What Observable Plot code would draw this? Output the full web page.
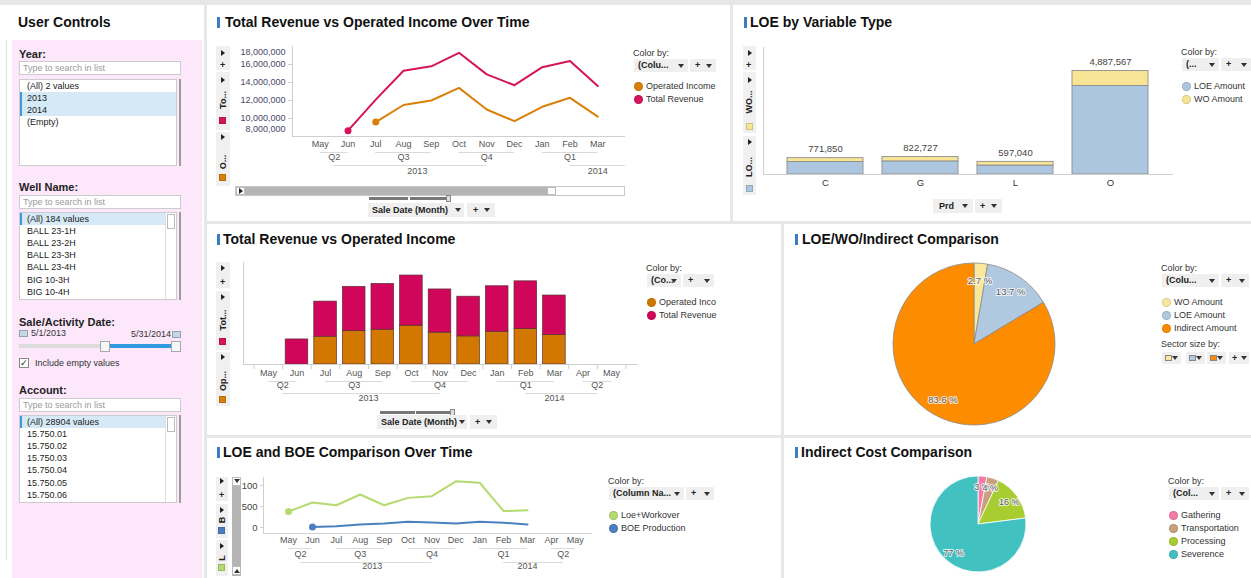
<!DOCTYPE html>
<html><head><meta charset="utf-8">
<script src="https://cdn.jsdelivr.net/npm/d3@7"></script>
<script src="https://cdn.jsdelivr.net/npm/@observablehq/plot@0.6"></script>
<style>
body{margin:0;background:#fff;}
#root{position:relative;width:1251px;height:578px;overflow:hidden;background:#e7e7e7;font-family:"Liberation Sans",Arial,sans-serif;color:#222;}
.abs{position:absolute;box-sizing:border-box;}
</style></head>
<body><div id="root"></div>
<script>
// ---------------- DATA ----------------
const months = ["May","Jun","Jul","Aug","Sep","Oct","Nov","Dec","Jan","Feb","Mar","Apr","May"];
const monthYear = [2013,2013,2013,2013,2013,2013,2013,2013,2014,2014,2014,2014,2014];
const monthQuarter = ["Q2","Q2","Q3","Q3","Q3","Q4","Q4","Q4","Q1","Q1","Q1","Q2","Q2"];
const totalRevenue = [null, 8.65e6, 12.1e6, 15.3e6, 15.8e6, 17.3e6, 14.9e6, 13.7e6, 15.7e6, 16.4e6, 13.6e6, null, null];
const operatedIncome = [null, null, 9.6e6, 11.5e6, 12.0e6, 13.4e6, 11.0e6, 9.7e6, 11.3e6, 12.3e6, 10.2e6, null, null];
const revSeries = ["Operated Income","Total Revenue"];
const revColors = ["#d9800b","#d6145c"];
const revTicks = [8e6, 10e6, 12e6, 14e6, 16e6, 18e6];

const loeWorkover = [380, 595, 530, 785, 530, 705, 745, 1100, 1065, 390, 410, null, null];
const boeProduction = [null, 10, 31, 71, 95, 135, 119, 95, 135, 112, 71, null, null];
const boeSeries = ["Loe+Workover","BOE Production"];
const boeColors = ["#b5da6f","#4a7fc0"];
const boeTicks = [0, 500, 1000];
const boeTickLabels = ["0","500","100"];

const prdCategories = ["C","G","L","O"];
const loeAmount = [592850, 618727, 424040, 4180567];
const woAmount = [179000, 204000, 173000, 707000];
const prdSeries = ["LOE Amount","WO Amount"];
const prdColors = ["#adc6df","#f7e595"];

const costLabels = ["WO Amount","LOE Amount","Indirect Amount"];
const costShares = [2.7, 13.7, 83.6];
const costColors = ["#f9e79b","#b0c8e0","#fd8c00"];

const indirectLabels = ["Gathering","Transportation","Processing","Severence"];
const indirectShares = [3, 4, 16, 77];
const indirectColors = ["#f47ba8","#c8a07c","#a7cd31","#42c1c1"];

// ---------------- HELPERS ----------------
const root = document.getElementById("root");
function box(x,y,w,h,style=""){const d=document.createElement("div");d.className="abs";d.style.cssText=`left:${x}px;top:${y}px;width:${w}px;height:${h}px;${style}`;root.appendChild(d);return d;}
function txt(x,cy,s,size=9,style=""){const lh=size+4;const d=document.createElement("div");d.className="abs";d.style.cssText=`left:${x}px;top:${cy-lh/2}px;height:${lh}px;line-height:${lh}px;font-size:${size}px;white-space:nowrap;${style}`;d.textContent=s;root.appendChild(d);return d;}
function txtR(xr,cy,s,size=9,style=""){const lh=size+4;const d=document.createElement("div");d.className="abs";d.style.cssText=`left:${xr-100}px;width:100px;text-align:right;top:${cy-lh/2}px;height:${lh}px;line-height:${lh}px;font-size:${size}px;white-space:nowrap;${style}`;d.textContent=s;root.appendChild(d);return d;}
function tri(x,cy){box(x,cy-3,0,0,"border-left:4px solid #222;border-top:3px solid transparent;border-bottom:3px solid transparent;");}
function down(x,cy){box(x,cy-2,0,0,"border-top:4px solid #333;border-left:3px solid transparent;border-right:3px solid transparent;");}
function up(x,cy){box(x,cy-2,0,0,"border-bottom:4px solid #333;border-left:3px solid transparent;border-right:3px solid transparent;");}
function sq(x,cy,c){box(x,cy-3.5,7,7,`background:${c};border:1px solid rgba(0,0,0,0.15)`);}
function rot(cx,cy,s){const d=document.createElement("div");d.className="abs";d.style.cssText=`left:${cx}px;top:${cy}px;transform:translate(-50%,-50%) rotate(-90deg);font-size:9px;font-weight:bold;white-space:nowrap;line-height:10px;color:#222`;d.textContent=s;root.appendChild(d);}
function title(bx,tx,cy,s){box(bx,cy-5.5,3,11,"background:#3b7dc4");txt(tx,cy,s,14,"font-weight:bold;color:#111");}
function legend(x,y,dd,ddW,plusW,labels,colors,iy){
  txt(x,y,"Color by:",9,"color:#333");
  box(x+1,y+6,ddW,13,"background:#efefef");txt(x+5,y+12.5,dd,9,"font-weight:bold;color:#222");down(x+ddW-9,y+12.5);
  box(x+ddW+3,y+6,plusW,13,"background:#efefef");txt(x+ddW+8,y+12.5,"+",9,"font-weight:bold");down(x+ddW+plusW-7,y+12.5);
  labels.forEach((l,k)=>{const cy=iy+k*13;box(x+1,cy-4.5,9,9,`border-radius:50%;background:${colors[k]};border:1px solid rgba(0,0,0,0.12)`);txt(x+13,cy,l,9,"color:#333");});
}
function place(x,y,node){const d=document.createElement("div");d.className="abs";d.style.cssText=`left:${x}px;top:${y}px;`;d.appendChild(node);root.appendChild(d);}

const baseStyle = {fontFamily:'"Liberation Sans", Arial, sans-serif', fontSize:"9px", background:"none", overflow:"visible", color:"#555"};
const axisCol = "#cfcfcf";
const labCol = "#555";
const fmtComma = d3.format(",");

// hierarchical month / quarter / year groups
const monthIdx = months.map((m,i)=>i);
const quarterGroups = d3.groups(monthIdx, i=>monthYear[i]+monthQuarter[i]).map(([k,arr])=>({label:monthQuarter[arr[0]], year:monthYear[arr[0]], first:arr[0], last:arr[arr.length-1], mid:d3.mean(arr)}));
const yearGroups = d3.groups(monthIdx, i=>monthYear[i]).map(([y,arr])=>{const qs=quarterGroups.filter(q=>q.year===y);return {label:String(y), mid:d3.mean(arr), first:qs[0].mid, last:qs[qs.length-1].mid};});

function timeAxis(dom, yBase, dyM, dyQ, dyY){
  const inD = v => v>=dom[0] && v<dom[1];
  const cl = v => Math.max(dom[0], Math.min(dom[1], v));
  return [
    Plot.text(monthIdx.filter(inD), {x:d=>d, text:i=>months[i], frameAnchor:"bottom", dy:dyM, fill:labCol}),
    Plot.ruleY(quarterGroups.filter(g=>g.last>=dom[0]&&g.first<=dom[1]), {x1:g=>cl(g.first), x2:g=>cl(g.last), y:()=>yBase, dy:dyM+6, stroke:"#dadada"}),
    Plot.text(quarterGroups.filter(g=>inD(g.mid)), {x:"mid", text:"label", frameAnchor:"bottom", dy:dyQ, fill:labCol}),
    Plot.ruleY(yearGroups.filter(g=>g.last>=dom[0]&&g.first<=dom[1]), {x1:g=>cl(g.first), x2:g=>cl(g.last), y:()=>yBase, dy:dyQ+6, stroke:"#dadada"}),
    Plot.text(yearGroups.filter(g=>inD(g.mid)), {x:"mid", text:"label", frameAnchor:"bottom", dy:dyY, fill:labCol})
  ];
}

// ---------------- PANELS ----------------
box(0,5,204,573,"background:#fff");
box(207,5,523,216,"background:#fff");
box(733,5,518,216,"background:#fff");
box(207,224,574,211,"background:#fff");
box(784,224,467,211,"background:#fff");
box(207,438,574,140,"background:#fff");
box(784,438,467,140,"background:#fff");

// ---------------- USER CONTROLS ----------------
txt(18,22,"User Controls",14,"font-weight:bold;color:#111");
box(12,40,190,538,"background:#fde7fb");
box(6,40,1,520,"background:#e2e2e2");
function searchBox(y){box(19,y,162,14,"background:#fff;border:1px solid #ccc");txt(23,y+7,"Type to search in list",9,"color:#9a9a9a");}
function listBox(y,h,items,selected,thumb,step){
  box(19,y,158,h,"background:#fff;border:1px solid #ccc");
  box(179,y,2,h,"background:#9c9c9c");
  items.forEach((s,k)=>{const cy=y+7+k*step; if(selected.includes(k)){box(20,cy-6,thumb?145:156,12,"background:#d5e9f7");box(20,cy-6,2,12,"background:#3d9ad8");} txt(27,cy,s,9,"color:#222");});
  if(thumb){box(165,y+1,11,h-2,"background:#fff;border-left:1px solid #e0e0e0");box(167,y+2,8,15,"background:#fff;border:1px solid #bbb");}
}
txt(19,54,"Year:",11,"font-weight:bold;color:#222");
searchBox(61);
listBox(79,87,["(All) 2 values","2013","2014","(Empty)"],[1,2],false,12);
txt(19,187,"Well Name:",11,"font-weight:bold;color:#222");
searchBox(195);
listBox(212,88,["(All) 184 values","BALL 23-1H","BALL 23-2H","BALL 23-3H","BALL 23-4H","BIG 10-3H","BIG 10-4H"],[0],true,12.2);
txt(19,322,"Sale/Activity Date:",11,"font-weight:bold;color:#222");
box(19,330,9,7,"background:#c9d6e4;border:1px solid #8fa3b8");
txt(31,333,"5/1/2013",9,"color:#333");
txtR(171,334,"5/31/2014",9,"color:#333");
box(172,331,9,7,"background:#c9d6e4;border:1px solid #8fa3b8");
box(19,344,85,4,"background:#dcdcdc");
box(110,344,66,4,"background:#2f9ae0");
box(100,341,10,11,"background:#f6f6f6;border:1px solid #a8a8a8");
box(171,341,10,11,"background:#f6f6f6;border:1px solid #a8a8a8");
box(19,358,10,10,"background:#fff;border:1px solid #888");
txt(20,363,"✓",9,"color:#222;font-family:'DejaVu Sans'");
txt(35,363,"Include empty values",9,"color:#333");
txt(19,390,"Account:",11,"font-weight:bold;color:#222");
searchBox(398);
listBox(415,88,["(All) 28904 values","15.750.01","15.750.02","15.750.03","15.750.04","15.750.05","15.750.06"],[0],true,12.2);

// ---------------- CHART A : line over time ----------------
title(217,225,22,"Total Revenue vs Operated Income Over Time");
box(216,46,14,24,"background:#f0f0f0");box(216,72,14,58,"background:#f0f0f0");box(216,132,14,54,"background:#f0f0f0");
tri(221,53);txt(220,65,"+",9,"font-weight:bold");tri(221,80);rot(223,100,"To...");sq(219,120,revColors[1]);tri(221,137);rot(223,162,"O...");sq(219,177,revColors[0]);
const revRows=[];
monthIdx.forEach(i=>{if(operatedIncome[i]!=null)revRows.push({i,series:revSeries[0],value:operatedIncome[i]});if(totalRevenue[i]!=null)revRows.push({i,series:revSeries[1],value:totalRevenue[i]});});
const revFirst = revSeries.map(s=>revRows.find(d=>d.series===s));
const domA=[-1,11];
const yLab="#48486c";
place(230,36,Plot.plot({
  width:410,height:150,marginLeft:62,marginRight:15,marginTop:10,marginBottom:50,
  style:baseStyle,
  x:{domain:domA,axis:null},
  y:{domain:[revTicks[0],revTicks[revTicks.length-1]],axis:null},
  color:{domain:revSeries,range:revColors},
  marks:[
    Plot.ruleX([domA[0]],{stroke:axisCol}),
    Plot.ruleY([revTicks[0]],{stroke:axisCol}),
    Plot.ruleY(revTicks.slice(1,-1),{y:d=>d,x1:()=>domA[0],x2:()=>domA[0],insetLeft:-4,stroke:axisCol}),
    Plot.text(revTicks.slice(1,-1),{y:d=>d,frameAnchor:"left",textAnchor:"end",dx:-7,text:d=>fmtComma(d),fill:yLab}),
    Plot.text(revTicks.slice(-1),{y:d=>d,frameAnchor:"left",textAnchor:"end",dx:-7,dy:6,text:d=>fmtComma(d),fill:yLab}),
    Plot.text(revTicks.slice(0,1),{y:d=>d,frameAnchor:"left",textAnchor:"end",dx:-7,dy:-7,text:d=>fmtComma(d),fill:yLab}),
    Plot.line(revRows,{x:"i",y:"value",stroke:"series",strokeWidth:2}),
    Plot.dot(revFirst,{x:"i",y:"value",fill:"series",r:3.5}),
    ...timeAxis(domA,revTicks[0],10,23,37)
  ]
}));
// scrollbar + controls
box(235,186,390,10,"background:#fff;border:1px solid #c8c8c8");
box(236,187,320,8,"background:#b5b5b5");
box(236,187,9,8,"background:#fff;border:1px solid #bbb");tri(239,191);
box(547,187,9,8,"background:#fff;border:1px solid #bbb");
box(369,197,39,3,"background:#777");box(410,197,37,3,"background:#777");box(446,195,5,7,"background:#ddd;border:1px solid #888");
box(368,203,96,14,"background:#efefef");txt(372,210,"Sale Date (Month)",9,"font-weight:bold");down(455,210);
box(467,203,28,14,"background:#efefef");txt(473,210,"+",9,"font-weight:bold");down(484,210);
legend(633,53,"(Colu...",54,26,revSeries,revColors,86);

// ---------------- CHART B : LOE by variable type ----------------
title(744,750,22,"LOE by Variable Type");
box(743,46,13,24,"background:#f0f0f0");box(743,72,13,61,"background:#f0f0f0");box(743,136,13,59,"background:#f0f0f0");
tri(748,53);txt(746,65,"+",9,"font-weight:bold");tri(748,80);rot(749,102,"WO...");sq(746,126,prdColors[1]);tri(748,142);rot(749,167,"LO...");sq(746,188,prdColors[0]);
const prdRows = prdCategories.flatMap((c,k)=>[{prd:c,series:prdSeries[0],value:loeAmount[k]},{prd:c,series:prdSeries[1],value:woAmount[k]}]);
const prdTotals = prdCategories.map((c,k)=>({prd:c,total:loeAmount[k]+woAmount[k]}));
place(755,30,Plot.plot({
  width:430,height:170,marginLeft:8,marginRight:12,marginTop:17,marginBottom:26,
  style:baseStyle,
  x:{domain:prdCategories,paddingInner:0.2,paddingOuter:0.1,insetLeft:13,insetRight:14,axis:null},
  y:{domain:[0,6e6],axis:null},
  color:{domain:prdSeries,range:prdColors},
  marks:[
    Plot.barY(prdRows,{x:"prd",y:"value",fill:"series",stroke:"#8e8e8e",strokeWidth:0.9}),
    Plot.text(prdTotals,{x:"prd",y:"total",text:d=>fmtComma(d.total),dy:-9,fill:"#444",fontSize:9.5}),
    Plot.text(prdCategories,{x:d=>d,frameAnchor:"bottom",dy:11,fill:"#333",fontSize:9.5}),
    Plot.ruleY([0],{stroke:axisCol}),
    Plot.frame({anchor:"left",stroke:axisCol})
  ]
}));
box(933,199,40,14,"background:#efefef");txt(939,206,"Prd",9,"font-weight:bold");down(962,206);
box(975,199,27,14,"background:#efefef");txt(980,206,"+",9,"font-weight:bold");down(991,206);
legend(1181,52,"(...",37,30,prdSeries,prdColors,86);

// ---------------- CHART C : stacked bars ----------------
title(217,223,239,"Total Revenue vs Operated Income");
box(216,262,14,26,"background:#f0f0f0");box(216,291,14,59,"background:#f0f0f0");box(216,352,14,54,"background:#f0f0f0");
tri(221,268);txt(220,282,"+",9,"font-weight:bold");tri(221,297);rot(223,320,"Tot...");sq(219,341,revColors[1]);tri(221,357);rot(223,381,"Op...");sq(219,399,revColors[0]);
const domC=[-0.87,12.94];
place(200,250,Plot.plot({
  width:450,height:160,marginLeft:43,marginRight:12,marginTop:12,marginBottom:46,
  style:baseStyle,
  x:{domain:domC,axis:null},
  y:{domain:[0,35.2e6],axis:null},
  color:{domain:revSeries,range:["#d27800","#d1065a"]},
  marks:[
    Plot.rectY(revRows,{x1:d=>d.i-0.5,x2:d=>d.i+0.5,y:"value",fill:"series",insetLeft:3,insetRight:3,stroke:"#5a2f35",strokeWidth:0.7}),
    Plot.ruleX([domC[0]],{stroke:axisCol}),
    Plot.ruleY([0],{stroke:axisCol}),
    Plot.ruleX(d3.range(months.length+1).map(i=>i-0.5),{x:d=>d,y1:0,y2:0,insetBottom:-5,stroke:axisCol}),
    ...timeAxis(domC,0,11,23,36)
  ]
}));
box(380,411,35,3,"background:#777");box(416,411,35,3,"background:#777");box(450,409,5,7,"background:#ddd;border:1px solid #888");
box(377,415,90,14,"background:#efefef");txt(381,422,"Sale Date (Month)",9,"font-weight:bold");down(459,422);
box(470,415,27,14,"background:#efefef");txt(475,422,"+",9,"font-weight:bold");down(486,422);
legend(646,268,"(Co...",34,31,["Operated Inco","Total Revenue"],["#d27800","#d1065a"],302);

// ---------------- PIE helper ----------------
function pie(x,y,size,m,labels,shares,colors,stroke,fmt,fs){
  const arcs = d3.pie().sort(null).value(d=>d)(shares);
  const rows = arcs.map((a,k)=>{const mid=(a.startAngle+a.endAngle)/2;return {label:fmt(shares[k]),lx:0.79*Math.sin(mid),ly:0.79*Math.cos(mid)};});
  const pieMark = (index,scales)=>{
    const cx=scales.x(0), cy=scales.y(0), r=scales.x(1)-scales.x(0);
    const g=d3.create("svg:g").attr("transform",`translate(${cx},${cy})`);
    const arc=d3.arc().innerRadius(0).outerRadius(r);
    g.selectAll("path").data(arcs).join("path").attr("d",arc).attr("fill",(d,k)=>colors[k]).attr("stroke",stroke).attr("stroke-width",0.8);
    return g.node();
  };
  place(x,y,Plot.plot({
    width:size,height:size,margin:m,style:baseStyle,
    x:{domain:[-1,1],axis:null},y:{domain:[-1,1],axis:null},
    marks:[pieMark, Plot.text(rows,{x:"lx",y:"ly",text:"label",fill:"#5a5a5a",stroke:"#fff",strokeWidth:2,strokeOpacity:0.8,fontSize:fs})]
  }));
}

// ---------------- CHART D : pie ----------------
title(795,802,239,"LOE/WO/Indirect Comparison");
pie(884,254,180,9,costLabels,costShares,costColors,"#8a8a8a",v=>v.toFixed(1)+" %",9.5);
legend(1161,268,"(Colu...",57,28,costLabels,costColors,302);
txt(1161,344,"Sector size by:",9,"color:#333");
[[1162,costColors[0]],[1186,costColors[1]],[1207,costColors[2]]].forEach(([bx,c])=>{box(bx,352,19,12,"background:#efefef");box(bx+3,355,7,6,`background:${c};border:1px solid #888`);down(bx+10,358);});
box(1229,352,20,12,"background:#efefef");txt(1232,358,"+",9,"font-weight:bold");down(1241,358);

// ---------------- CHART E : LOE / BOE lines ----------------
title(217,223,452,"LOE and BOE Comparison Over Time");
box(216,477,12,24,"background:#f0f0f0");box(216,504,12,34,"background:#f0f0f0");box(216,540,12,36,"background:#f0f0f0");
tri(220,481);txt(219,495,"+",9,"font-weight:bold");tri(220,510);rot(222,520,"B");sq(218,530,boeColors[1]);tri(220,546);rot(222,558,"L");sq(218,567,boeColors[0]);
box(232,477,9,99,"background:#b4b4b4");box(232,477,9,9,"background:#fff;border:1px solid #bbb");down(234,481);box(232,566,9,9,"background:#fff;border:1px solid #bbb");up(234,571);
const boeRows=[];
monthIdx.forEach(i=>{if(loeWorkover[i]!=null)boeRows.push({i,series:boeSeries[0],value:loeWorkover[i]});if(boeProduction[i]!=null)boeRows.push({i,series:boeSeries[1],value:boeProduction[i]});});
const boeFirst = boeSeries.map(s=>boeRows.find(d=>d.series===s));
const domE=[-1.05,12.72];
const yDomE=[-143,1190];
place(240,470,Plot.plot({
  width:360,height:108,marginLeft:23,marginRight:8,marginTop:7,marginBottom:45,
  style:baseStyle,
  x:{domain:domE,axis:null},
  y:{domain:yDomE,axis:null},
  color:{domain:boeSeries,range:boeColors},
  marks:[
    Plot.ruleX([domE[0]],{stroke:axisCol}),
    Plot.ruleY([yDomE[0]],{stroke:axisCol}),
    Plot.ruleY(boeTicks,{y:d=>d,x1:()=>domE[0],x2:()=>domE[0],insetLeft:-3,stroke:axisCol}),
    Plot.text(boeTicks,{y:d=>d,frameAnchor:"left",textAnchor:"end",dx:-6,text:d=>boeTickLabels[boeTicks.indexOf(d)],fill:"#444",fontSize:9.5}),
    Plot.line(boeRows,{x:"i",y:"value",stroke:"series",strokeWidth:2}),
    Plot.dot(boeFirst,{x:"i",y:"value",fill:"series",r:3.5}),
    ...timeAxis(domE,yDomE[0],9,23,35)
  ]
}));
legend(608,481,"(Column Na...",75,28,boeSeries,boeColors,515);

// ---------------- CHART F : pie ----------------
title(795,801,452,"Indirect Cost Comparison");
pie(918,464,120,12,indirectLabels,indirectShares,indirectColors,"#ffffff",v=>v+" %",9);
legend(1168,481,"(Col...",50,28,indirectLabels,indirectColors,515);
</script>
</body></html>
